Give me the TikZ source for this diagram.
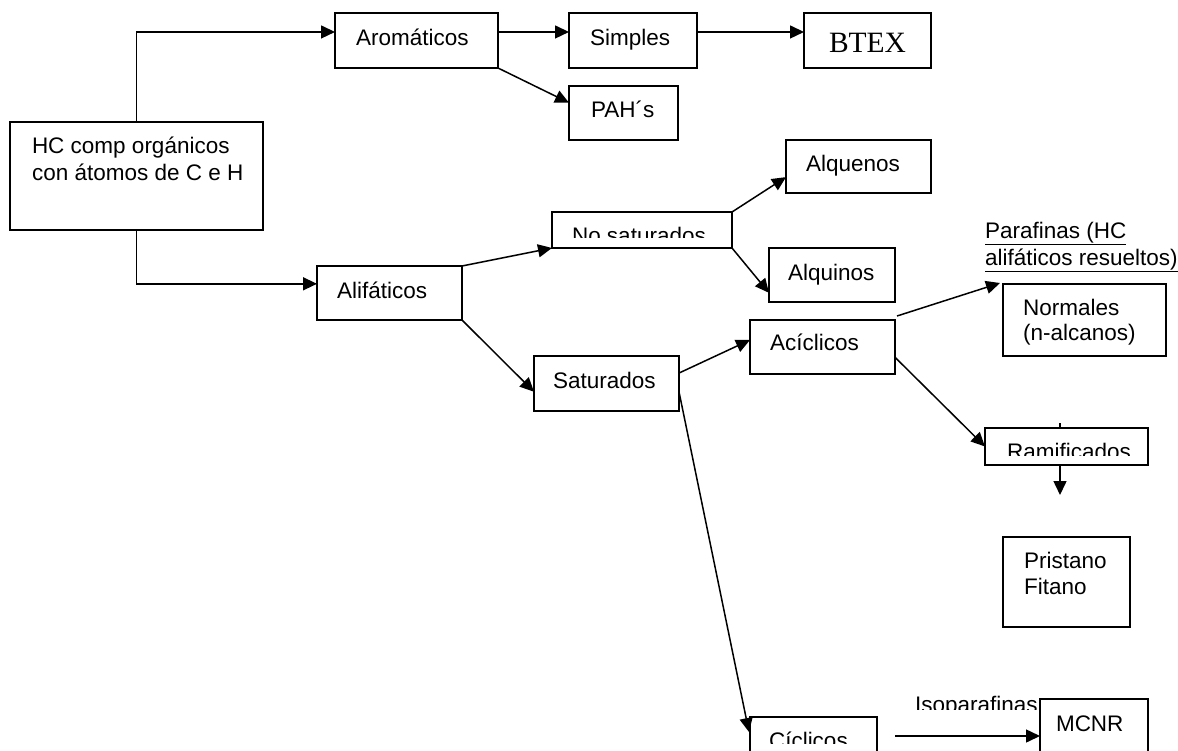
\documentclass[tikz,border=0pt]{standalone}
\usepackage{fontspec}
\setmainfont{Liberation Sans}
\newfontfamily\timesf{Liberation Serif}
\usetikzlibrary{arrows.meta,calc}
\tikzset{
  box/.style={draw, line width=1.6pt, rectangle, inner sep=0pt, outer sep=0pt, anchor=north west},
  txt/.style={inner sep=0pt, outer sep=0pt, anchor=base west, font=\fontsize{22.5}{27}\selectfont},
  serif/.style={inner sep=0pt, outer sep=0pt, anchor=base, font=\timesf\fontsize{29.5}{34}\selectfont},
  line/.style={draw, line width=1.5pt},
  arr/.style={line, -{Triangle[length=14pt,width=13pt]}}
}
\begin{document}
\begin{tikzpicture}[x=1pt,y=-1pt]
\useasboundingbox (0,0) rectangle (1178,750);
\clip (0,0) rectangle (1178,750);
\fill[white] (0,0) rectangle (1178,750);

% boxes
\node[box, minimum width=253pt, minimum height=108pt] (hc) at (10,122) {};
\node[box, minimum width=163pt, minimum height=55pt] (aro) at (335,13) {};
\node[box, minimum width=128pt, minimum height=55pt] (sim) at (569,13) {};
\node[box, minimum width=127pt, minimum height=55pt] (btex) at (804,13) {};
\node[box, minimum width=109pt, minimum height=54pt] (pah) at (569,86) {};
\node[box, minimum width=145pt, minimum height=53pt] (alqe) at (786,140) {};
\node[box, minimum width=180pt, minimum height=36pt] (nos) at (552,212) {};
\node[box, minimum width=126pt, minimum height=54pt] (alqi) at (769,248) {};
\node[box, minimum width=145pt, minimum height=54pt] (ali) at (317,266) {};
\node[box, minimum width=163pt, minimum height=72pt] (nor) at (1003,284) {};
\node[box, minimum width=145pt, minimum height=54pt] (aci) at (750,320) {};
\node[box, minimum width=145pt, minimum height=55pt] (sat) at (534,356) {};
\node[box, minimum width=163pt, minimum height=37pt] (ram) at (985,428) {};
\node[box, minimum width=127pt, minimum height=90pt] (pri) at (1003,537) {};
\node[box, minimum width=127pt, minimum height=60pt] (cic) at (750,717) {};
\node[box, minimum width=108pt, minimum height=70pt] (mcnr) at (1040,699) {};

% texts
\node[txt] (thc1) at (32,153) {HC comp orgánicos};
\node[txt] (thc2) at (32,180) {con átomos de C e H};
\node[txt] (taro) at (356,45) {Aromáticos};
\node[txt] (tsim) at (590,45) {Simples};
\node[serif] (tbtex) at (867.5,52) {BTEX};
\node[txt] (tpah) at (591,117) {PAH´s};
\node[txt] (talqe) at (806,171) {Alquenos};
\node[txt] (talqi) at (788,280) {Alquinos};
\node[txt] (tali) at (337,298) {Alifáticos};
\node[txt] (tpar1) at (985,238) {\underline{Parafinas (HC}};
\node[txt] (tpar2) at (985,265) {\underline{alifáticos resueltos)}};
\node[txt] (tnor1) at (1023,315) {Normales};
\node[txt] (tnor2) at (1023,340) {(n-alcanos)};
\node[txt] (taci) at (770,350) {Acíclicos};
\node[txt] (tsat) at (553,388) {Saturados};
\node[txt] (tpri1) at (1024,568) {Pristano};
\node[txt] (tpri2) at (1024,594) {Fitano};
\node[txt] (tmcnr) at (1056,731) {MCNR};

\begin{scope}
\clip (552,212) rectangle (732,237);
\node[txt] (tnos) at (572,243) {No saturados};
\end{scope}
\begin{scope}
\clip (985,428) rectangle (1148,455);
\node[txt] (tram) at (1007,459) {Ramificados};
\end{scope}
\begin{scope}
\clip (750,717) rectangle (877,743);
\node[txt] (tcic) at (769,748) {Cíclicos};
\end{scope}
\begin{scope}
\clip (900,685) rectangle (1040,709);
\node[txt] (tiso) at (915,712) {Isoparafinas};
\end{scope}

% connectors
\draw[arr] (hc.north) |- ($(aro.north west)!0.345!(aro.south west)$);
\draw[arr] (hc.south) |- ($(ali.north west)!0.33!(ali.south west)$);
\draw[arr] ($(aro.north east)!0.345!(aro.south east)$) -- ($(sim.north west)!0.345!(sim.south west)$);
\draw[arr] ($(sim.north east)!0.345!(sim.south east)$) -- ($(btex.north west)!0.345!(btex.south west)$);
\draw[arr] (aro.south east) -- ($(pah.north west)!0.31!(pah.south west)$);
\draw[arr] (ali.north east) -- (nos.south west);
\draw[arr] (ali.south east) -- ($(sat.north west)!0.65!(sat.south west)$);
\draw[arr] (nos.north east) -- ($(alqe.north west)!0.7!(alqe.south west)$);
\draw[arr] (nos.south east) -- ($(alqi.north west)!0.83!(alqi.south west)$);
\draw[arr] ($(sat.north east)!0.31!(sat.south east)$) -- ($(aci.north west)!0.37!(aci.south west)$);
\draw[arr] ($(aci.north east)+(2,-4)$) -- ($(nor.north west)+(-3,-1)$);
\draw[arr] ($(aci.north east)!0.69!(aci.south east)$) -- (ram.west);
\coordinate (ramtip) at (1060,495);
\coordinate (ramtick) at (1060,423);
\draw[arr] (ram.south -| ramtip) -- (ramtip);
\draw[line] (ramtick) -- (ramtick |- ram.north);
\draw[arr] ($(sat.north east)!0.65!(sat.south east)$) -- ($(cic.north west)+(-1,15)$);
\coordinate (isostart) at (895,736);
\draw[arr] (isostart) -- (isostart -| mcnr.west);
\end{tikzpicture}
\end{document}
